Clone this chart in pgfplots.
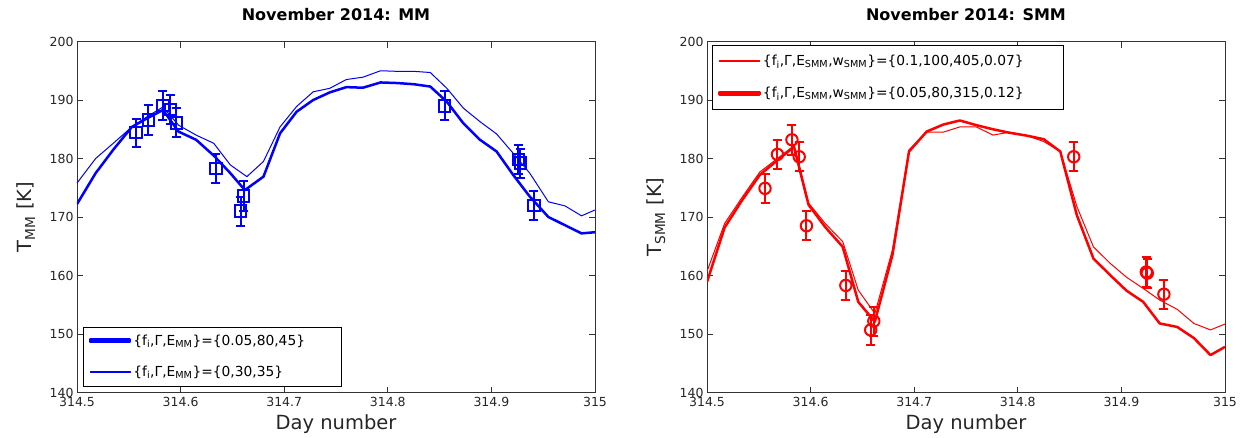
\documentclass[border=0pt]{standalone}
\usepackage{fontspec}
\setmainfont{DejaVu Sans}
\usepackage{pgfplots}
\usepackage{pgfplotstable}
\pgfplotsset{compat=1.18}

\pgfplotstableread{
x y
314.500 172.2
314.518 177.5
314.535 181.5
314.553 185.4
314.568 186.9
314.583 188.3
314.598 184.6
314.615 183.2
314.632 180.5
314.648 177.5
314.662 174.6
314.680 176.9
314.696 184.3
314.712 188.0
314.728 190.0
314.744 191.3
314.760 192.2
314.776 192.1
314.793 193.0
314.809 192.9
314.825 192.7
314.841 192.3
314.857 189.7
314.873 186.0
314.889 183.2
314.905 181.2
314.921 177.2
314.937 173.5
314.955 170.0
314.971 168.6
314.987 167.2
315.000 167.4
}\mmthick

\pgfplotstableread{
x y
314.500 175.8
314.518 180.0
314.535 182.6
314.553 185.4
314.568 187.2
314.583 188.8
314.598 185.7
314.615 184.0
314.632 182.6
314.648 178.9
314.664 176.9
314.680 179.5
314.696 185.4
314.712 188.9
314.728 191.4
314.744 192.0
314.760 193.5
314.776 193.9
314.793 195.0
314.809 194.9
314.825 194.9
314.841 194.7
314.857 192.0
314.873 188.6
314.889 186.3
314.905 184.2
314.921 180.9
314.937 177.5
314.955 172.6
314.971 171.9
314.987 170.2
315.000 171.2
}\mmthin

\pgfplotstableread{
x y e
314.557 184.4 2.4
314.569 186.6 2.5
314.583 189.1 2.5
314.590 188.4 2.5
314.596 186.1 2.5
314.634 178.3 2.5
314.661 173.6 2.5
314.658 171.0 2.5
314.855 189.0 2.5
314.926 179.8 2.5
314.928 179.2 2.5
314.941 172.0 2.5
}\mmdata

\pgfplotstableread{
x y
314.500 158.9
314.517 168.2
314.534 172.9
314.551 177.2
314.568 179.7
314.584 182.0
314.598 172.1
314.614 168.3
314.631 164.9
314.646 155.5
314.662 152.1
314.679 163.5
314.695 181.2
314.712 184.6
314.728 185.8
314.744 186.5
314.760 185.7
314.776 185.0
314.792 184.4
314.809 183.9
314.825 183.3
314.841 181.2
314.857 170.3
314.873 162.9
314.889 160.1
314.905 157.4
314.921 155.5
314.937 151.8
314.954 151.2
314.970 149.3
314.986 146.4
315.000 147.8
}\smmthick

\pgfplotstableread{
x y
314.500 160.7
314.517 168.9
314.534 173.4
314.551 177.7
314.568 180.0
314.584 182.2
314.598 172.4
314.614 168.9
314.631 165.8
314.646 157.5
314.662 153.5
314.679 164.4
314.695 181.5
314.712 184.5
314.728 184.5
314.744 185.4
314.760 185.4
314.776 184.0
314.792 184.5
314.809 183.9
314.825 182.9
314.841 181.2
314.857 171.8
314.873 164.9
314.889 162.1
314.905 159.7
314.921 157.8
314.937 155.8
314.954 154.2
314.970 151.8
314.986 150.7
315.000 151.7
}\smmthin

\pgfplotstableread{
x y e
314.556 174.9 2.5
314.568 180.7 2.5
314.582 183.2 2.6
314.589 180.3 2.5
314.596 168.5 2.5
314.634 158.3 2.5
314.661 152.2 2.5
314.658 150.7 2.5
314.854 180.3 2.5
314.924 160.6 2.5
314.925 160.4 2.5
314.941 156.8 2.5
}\smmdata

\pgfplotsset{
  mystyle/.style={
    scale only axis, width=518pt, height=351pt,
    xmin=314.5, xmax=315, ymin=140, ymax=200,
    xtick={314.5,314.6,314.7,314.8,314.9,315},
    xticklabels={314.5,314.6,314.7,314.8,314.9,315},
    ytick={140,150,160,170,180,190,200},
    /pgf/number format/assume math mode=true,
    axis line style={line width=0.8pt, black!80},
    tick style={line width=0.8pt, black!80},
    major tick length=6pt,
    tick align=inside,
    tick label style={font=\fontsize{12.5}{14}\selectfont, text=black!85},
    xticklabel style={yshift=-1pt},
    label style={font=\fontsize{19.5}{22}\selectfont, text=black!85},
    title style={font=\bfseries\fontsize{16}{19}\selectfont, at={(0.5,1.043)}, anchor=base},
    xlabel style={at={(0.5,-0.104)}, anchor=base},
    ylabel style={at={(-0.087,0.5)}, anchor=base},
    legend cell align=left,
  },
  thickline/.style={line width=2.5pt, line join=round},
  thinline/.style={line width=1pt, line join=round},
  datapts/.style={only marks, mark size=5.7pt, mark options={line width=2pt, solid, fill=none},
    forget plot,
    error bars/.cd, y dir=both, y explicit,
    error bar style={line width=2pt},
    error mark options={rotate=90, mark size=4.5pt, line width=2pt}},
}

\begin{document}
\begin{tikzpicture}
\useasboundingbox (-77pt,-44.5pt) rectangle (1166pt,392.5pt);
\begin{axis}[mystyle,
  at={(0pt,0pt)}, anchor=south west,
  title={November 2014: MM},
  xlabel={Day number},
  ylabel={T\textsubscript{MM} [K]},
  legend style={at={(0.011,0.0185)}, anchor=south west, draw=black,
    font=\fontsize{13.8}{16}\selectfont, row sep=15pt, inner xsep=6pt, inner ysep=6pt},
]
\addplot[blue, thickline,
  legend image code/.code={\fill[blue] (0pt,-1.15pt) rectangle (40pt,1.15pt);}]
  table[x=x,y=y] {\mmthick};
\addlegendentry{\makebox[200pt][l]{\{f\textsubscript{i},Γ,E\textsubscript{MM}\}=\{0.05,80,45\}}}
\addplot[blue, thinline,
  legend image code/.code={\fill[blue] (0pt,-0.55pt) rectangle (40pt,0.55pt);}]
  table[x=x,y=y] {\mmthin};
\addlegendentry{\makebox[200pt][l]{\{f\textsubscript{i},Γ,E\textsubscript{MM}\}=\{0,30,35\}}}
\addplot[blue, mark=square, datapts] table[x=x,y=y,y error=e] {\mmdata};
\end{axis}

\begin{axis}[mystyle,
  at={(630pt,0pt)}, anchor=south west,
  title={November 2014: SMM},
  xlabel={Day number},
  ylabel={T\textsubscript{SMM} [K]},
  legend style={at={(0.0102,0.99)}, anchor=north west, draw=black,
    font=\fontsize{13.8}{16}\selectfont, row sep=16pt, inner xsep=6pt, inner ysep=8pt},
]
\addplot[red, thinline,
  legend image code/.code={\fill[red] (0pt,-0.55pt) rectangle (40pt,0.55pt);}]
  table[x=x,y=y] {\smmthin};
\addlegendentry{\makebox[292pt][l]{\{f\textsubscript{i},Γ,E\textsubscript{SMM},w\textsubscript{SMM}\}=\{0.1,100,405,0.07\}}}
\addplot[red, thickline,
  legend image code/.code={\fill[red] (0pt,-1.15pt) rectangle (40pt,1.15pt);}]
  table[x=x,y=y] {\smmthick};
\addlegendentry{\makebox[292pt][l]{\{f\textsubscript{i},Γ,E\textsubscript{SMM},w\textsubscript{SMM}\}=\{0.05,80,315,0.12\}}}
\addplot[red, mark=o, datapts] table[x=x,y=y,y error=e] {\smmdata};
\end{axis}
\end{tikzpicture}
\end{document}
